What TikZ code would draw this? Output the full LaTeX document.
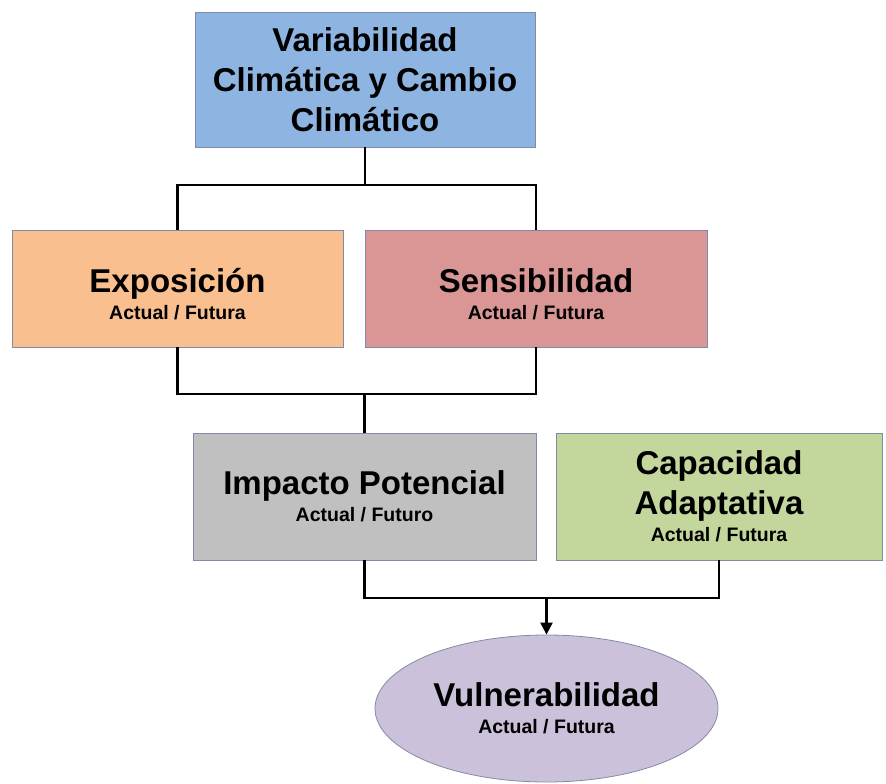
\documentclass[tikz,border=0pt]{standalone}
\usepackage{fontspec}
\setmainfont{Liberation Sans}
\usetikzlibrary{shapes.geometric, arrows.meta, positioning}
\definecolor{climacolor}{RGB}{142, 180, 226}
\definecolor{expocolor}{RGB}{250, 191, 143}
\definecolor{senscolor}{RGB}{217, 150, 148}
\definecolor{impactcolor}{RGB}{192, 192, 192}
\definecolor{adaptcolor}{RGB}{195, 214, 155}
\definecolor{vulncolor}{RGB}{204, 193, 218}
\definecolor{edgecolor}{RGB}{128, 140, 165}
\newcommand{\periodo}[1]{\\[-13pt]{\fontsize{19.5}{23}\selectfont #1}}

\begin{document}
\begin{tikzpicture}[
    x=1pt, y=-1pt,
    >={Triangle[length=12pt, width=12pt]},
    block/.style={rectangle, draw=edgecolor, line width=0.8pt, align=center, inner sep=0pt, font=\fontsize{33}{40}\selectfont\bfseries},
    lowtext/.style={text depth=0pt},
    conn/.style={line width=2.3pt},
    arrow/.style={->, line width=2.3pt}
]
\useasboundingbox (0,0) rectangle (886,784);

% Climate
\node[block, fill=climacolor, minimum width=340pt, minimum height=135pt] (clima) at (365, 79.5) {Variabilidad\\Climática y Cambio\\Climático};

% Exposure and sensitivity
\node[block, lowtext, fill=expocolor, minimum width=331pt, minimum height=117pt] (expo) at (177.5, 288.5) {\rule{0pt}{35pt}Exposición\periodo{Actual / Futura}};
\node[block, lowtext, fill=senscolor, minimum width=342pt, minimum height=117pt] (sens) at (536, 288.5) {\rule{0pt}{35pt}Sensibilidad\periodo{Actual / Futura}};

% Impact and adaptive capacity
\node[block, fill=impactcolor, minimum width=343pt, minimum height=127pt] (impacto) at (364.5, 496.5) {Impacto Potencial\periodo{Actual / Futuro}};
\node[block, fill=adaptcolor, minimum width=326pt, minimum height=127pt] (adapt) at (719, 496.5) {Capacidad\\Adaptativa\periodo{Actual / Futura}};

% Vulnerability
\node[block, ellipse, fill=vulncolor, minimum width=343pt, minimum height=147pt] (vuln) at (546.5, 708.5) {Vulnerabilidad\periodo{Actual / Futura}};

% Junctions
\coordinate (j1) at (clima.south |- 0,185);
\coordinate (j2) at (impacto.north |- 0,394);
\coordinate (j3) at (vuln.north |- 0,598);

% Connectors
\draw[conn] (clima.south) -- (j1);
\draw[conn] (expo.north) |- (j1) -| (sens.north);
\draw[conn] (expo.south) |- (j2) -| (sens.south);
\draw[conn] (j2) -- (impacto.north);
\draw[conn] (impacto.south) |- (j3) -| (adapt.south);
\draw[arrow] (j3) -- (vuln.north);

\end{tikzpicture}
\end{document}
